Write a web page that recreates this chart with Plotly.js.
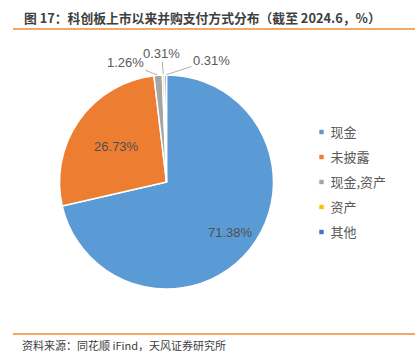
<!DOCTYPE html>
<html><head><meta charset="utf-8">
<script src="https://cdn.plot.ly/plotly-3.0.1.min.js"></script>
<style>html,body{margin:0;padding:0;background:#fff;}#chart{width:415px;height:362px;}</style>
</head><body><div id="chart"></div>
<script>
const categories = ['现金', '未披露', '现金,资产', '资产', '其他'];
const shares = [71.38, 26.73, 1.26, 0.31, 0.31];
const colors = ['#5B9BD5', '#ED7D31', '#A5A5A5', '#FFC000', '#4472C4'];
const titleText = '图 17：科创板上市以来并购支付方式分布（截至 2024.6，%）';
const sourceText = '资料来源：同花顺 iFind，天风证券研究所';

const W = 415, H = 362;
const cx = 166.5, cy = 182, r = 107;
const FONT = 'Noto Sans CJK SC, sans-serif';
const LABEL_FONT = 'Liberation Sans Narrow, Liberation Sans, sans-serif';
const LEGEND_TOP = 132, LEGEND_STEP = 25;

const placement = [{inside: 0.76}, {plotly: true}, {off: [-33, -13]}, {off: [-2, -22]}, {off: [46, -15]}];
const total = shares.reduce((a, b) => a + b, 0);
const annotations = [];
let cum = 0;
shares.forEach((v, i) => {
  const mid = (cum + v / 2) / total * 2 * Math.PI;
  cum += v;
  const p = placement[i];
  const txt = v.toFixed(2) + '%';
  if (p.inside) {
    const px = cx + p.inside * r * Math.sin(mid), py = cy - p.inside * r * Math.cos(mid);
    annotations.push({x: px / W, y: 1 - py / H, xref: 'paper', yref: 'paper', text: txt,
      showarrow: false, font: {family: LABEL_FONT, size: 13, color: '#505050'}});
  } else if (p.off) {
    const px = cx + r * Math.sin(mid), py = cy - r * Math.cos(mid);
    annotations.push({
      x: px / W, y: 1 - py / H, xref: 'paper', yref: 'paper',
      text: txt, showarrow: true, arrowhead: 0, arrowwidth: 1,
      arrowcolor: '#B0B0B0', ax: p.off[0], ay: p.off[1], standoff: 1,
      font: {family: LABEL_FONT, size: 13, color: '#595959'}
    });
  }
});
annotations.push({
  x: 22 / W, y: 1 - 18 / H, xref: 'paper', yref: 'paper', xanchor: 'left', yanchor: 'middle', align: 'left',
  text: titleText, showarrow: false, font: {family: FONT, size: 12.8, color: '#404040', weight: 'bold'}
});
annotations.push({
  x: 20 / W, y: 1 - 345 / H, xref: 'paper', yref: 'paper', xanchor: 'left', yanchor: 'middle', align: 'left',
  text: sourceText, showarrow: false, font: {family: FONT, size: 11, color: '#404040'}
});

const data = [{
  type: 'pie', labels: categories, values: shares, sort: false, direction: 'clockwise',
  marker: {colors: colors, line: {color: '#FFFFFF', width: 1.5}},
  texttemplate: placement.map(p => p.plotly ? '%{value:.2f}%' : ''),
  textposition: placement.map(p => p.plotly ? 'inside' : 'none'),
  insidetextorientation: 'horizontal',
  insidetextfont: {family: LABEL_FONT, size: 13, color: '#505050'},
  hoverinfo: 'label+percent',
  domain: {x: [(cx - r) / W, (cx + r) / W], y: [1 - (cy + r) / H, 1 - (cy - r) / H]}
}];

const layout = {
  width: W, height: H, margin: {l: 0, r: 0, t: 0, b: 0},
  paper_bgcolor: '#FFFFFF', plot_bgcolor: '#FFFFFF',
  showlegend: true,
  legend: {x: 0.70, y: 1 - 120 / H, xanchor: 'left', yanchor: 'top',
           font: {family: FONT, size: 13, color: '#595959'}, bgcolor: 'rgba(0,0,0,0)'},
  shapes: [
    {type: 'line', xref: 'paper', yref: 'paper', x0: 13 / W, x1: 1, y0: 1 - 29 / H, y1: 1 - 29 / H,
     line: {color: '#F28A30', width: 1.5}},
    {type: 'line', xref: 'paper', yref: 'paper', x0: 13 / W, x1: 1, y0: 1 - 334 / H, y1: 1 - 334 / H,
     line: {color: '#F28A30', width: 1.5}}
  ],
  annotations: annotations
};

function tweakLegend() {
  const gd = document.getElementById('chart');
  const leg = gd.querySelector('.legend');
  if (!leg) return;
  gd.querySelectorAll('clipPath[id^="legend"] rect').forEach(rc => rc.setAttribute('height', 200));
  const legBox = leg.getBoundingClientRect();
  const chartBox = gd.getBoundingClientRect();
  leg.querySelectorAll('.traces').forEach((it, i) => {
    const m = /translate\(([-\d.]+)[ ,]+([-\d.]+)\)/.exec(it.getAttribute('transform') || '');
    const tx = m ? parseFloat(m[1]) : 0;
    const targetY = LEGEND_TOP + i * LEGEND_STEP - (legBox.top - chartBox.top);
    it.setAttribute('transform', 'translate(' + tx + ',' + targetY + ')');
    it.querySelectorAll('.legendpoints path').forEach(p => {
      p.setAttribute('transform', 'translate(31,0) scale(0.42)');
    });
  });
}

const ready = (document.fonts && document.fonts.ready) ? document.fonts.ready : Promise.resolve();
ready.then(() => Plotly.newPlot('chart', data, layout, {displayModeBar: false, staticPlot: true}))
     .then(tweakLegend);
</script></body></html>
